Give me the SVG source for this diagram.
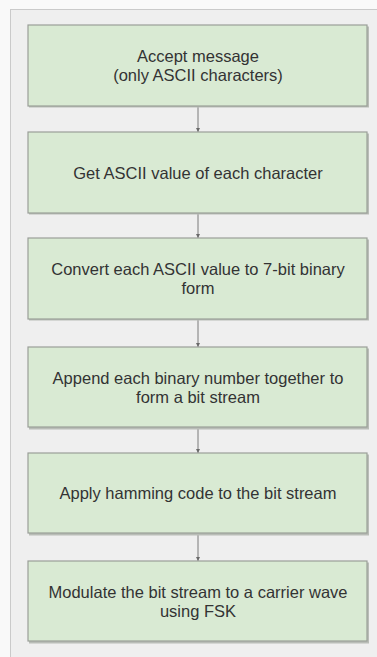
<svg xmlns="http://www.w3.org/2000/svg" width="377" height="657" viewBox="0 0 377 657">
  <style>
    .step rect.box { fill: #d9ead3; stroke: #9a9e98; stroke-width: 1.2; }
    .step rect.shade { fill: #b9bdb7; }
    .step text { font-family: "Liberation Sans", Arial, sans-serif; font-size: 16.5px; fill: #333333; text-anchor: middle; }
    .link { stroke: #7a7a7a; stroke-width: 1; fill: none; marker-end: url(#tip); }
  </style>
  <defs>
    <marker id="tip" viewBox="0 0 4 4" refX="4" refY="2" markerWidth="4" markerHeight="4" orient="auto" markerUnits="userSpaceOnUse">
      <path d="M0,0 L4,2 L0,4 Z" fill="#6a6a6a"/>
    </marker>
  </defs>

  <!-- page background and canvas panel -->
  <rect x="0" y="0" width="377" height="657" fill="#f9f9f9"/>
  <rect x="10.5" y="9.5" width="380" height="660" fill="#efefef" stroke="#cacaca" stroke-width="1"/>

  <!-- connectors -->
  <g id="connectors">
    <line class="link" x1="198" y1="107" x2="198" y2="132"/>
    <line class="link" x1="198" y1="214" x2="198" y2="238"/>
    <line class="link" x1="198" y1="320" x2="198" y2="347"/>
    <line class="link" x1="198" y1="428" x2="198" y2="453"/>
    <line class="link" x1="198" y1="534" x2="198" y2="561"/>
  </g>

  <g id="accept-message" class="step">
    <rect class="shade" x="29" y="26.5" width="340" height="81"/>
    <rect class="box" x="28" y="25" width="339" height="81"/>
    <text x="198" y="62">Accept message</text>
    <text x="198" y="81">(only ASCII characters)</text>
  </g>

  <g id="get-ascii" class="step">
    <rect class="shade" x="29" y="133.5" width="340" height="81"/>
    <rect class="box" x="28" y="132" width="339" height="81"/>
    <text x="198" y="178.5">Get ASCII value of each character</text>
  </g>

  <g id="to-binary" class="step">
    <rect class="shade" x="29" y="239.5" width="340" height="81"/>
    <rect class="box" x="28" y="238" width="339" height="81"/>
    <text x="198" y="275">Convert each ASCII value to 7-bit binary</text>
    <text x="198" y="294">form</text>
  </g>

  <g id="append-bits" class="step">
    <rect class="shade" x="29" y="348.5" width="340" height="81"/>
    <rect class="box" x="28" y="347" width="339" height="80"/>
    <text x="198" y="383.5">Append each binary number together to</text>
    <text x="198" y="402.5">form a bit stream</text>
  </g>

  <g id="hamming" class="step">
    <rect class="shade" x="29" y="454.5" width="340" height="81"/>
    <rect class="box" x="28" y="453" width="339" height="80"/>
    <text x="198" y="499">Apply hamming code to the bit stream</text>
  </g>

  <g id="modulate" class="step">
    <rect class="shade" x="29" y="562.5" width="340" height="81"/>
    <rect class="box" x="28" y="561" width="339" height="80"/>
    <text x="198" y="597.5">Modulate the bit stream to a carrier wave</text>
    <text x="198" y="616.5">using FSK</text>
  </g>
</svg>
